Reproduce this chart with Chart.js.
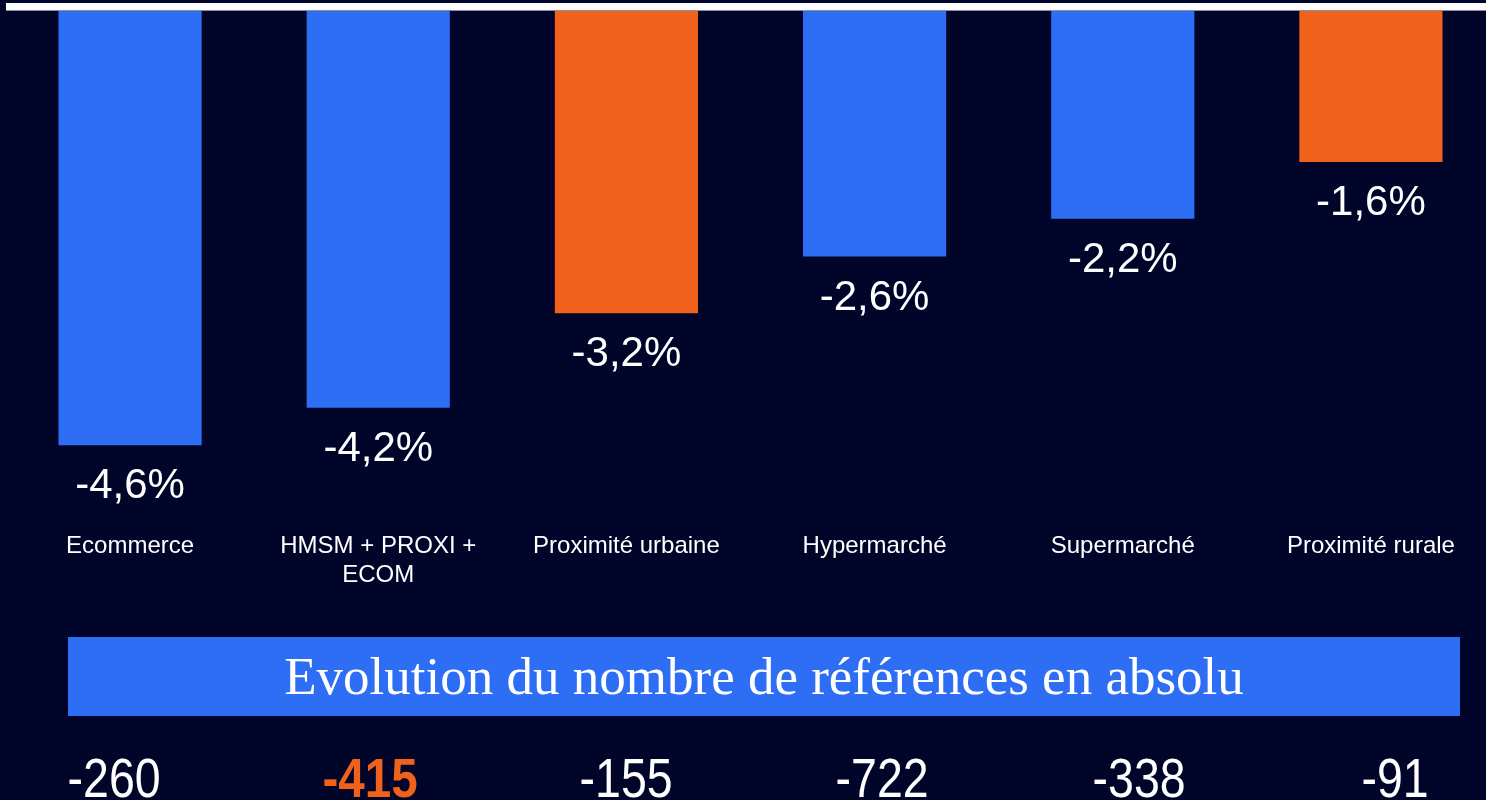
<!DOCTYPE html>
<html>
<head>
    <title>Evolution du nombre de références</title>
    <script src="https://cdn.jsdelivr.net/npm/chart.js"></script>
    <style>
        body {
            background-color: #01052a;
            margin: 0;
            width: 1486px;
            height: 800px;
            overflow: hidden;
            position: relative;
            font-family: 'Liberation Sans', Arial, sans-serif;
        }

        /* white rule across the top */
        .top-rule {
            position: absolute;
            left: 6px;
            top: 3px;
            width: 1486px;
            height: 8px;
            background: #ffffff;
            border-bottom: 1px solid #8a8fa8;
            box-sizing: border-box;
        }

        .chart-wrapper {
            position: absolute;
            left: 6px;
            top: 0;
        }

        .banner {
            position: absolute;
            left: 68px;
            top: 637px;
            width: 1392px;
            height: 79px;
            background: #2d6ef5;
            color: #ffffff;
            text-align: center;
            font-family: 'Liberation Serif', 'DejaVu Serif', serif;
            font-size: 53px;
            line-height: 79px;
        }

        .abs-row {
            position: absolute;
            left: -14px;
            top: 750px;
            width: 1537px;
            display: grid;
            grid-template-columns: repeat(6, 1fr);
        }

        .abs-row div {
            text-align: center;
            color: #ffffff;
            font-size: 56px;
            line-height: 56px;
            transform: scaleX(0.83);
        }

        .abs-row div.highlight {
            color: #f0611c;
            font-weight: bold;
            transform: scaleX(0.85);
        }
    </style>
</head>
<body>
<div class="top-rule"></div>

<div class="chart-wrapper">
    <canvas id="refChart" width="1489" height="600"></canvas>
</div>

<div class="banner">Evolution du nombre de références en absolu</div>
<div class="abs-row" id="absRow"></div>

<script>
    // Data
    const categories = ['Ecommerce', ['HMSM + PROXI +', 'ECOM'], 'Proximité urbaine', 'Hypermarché', 'Supermarché', 'Proximité rurale'];
    const pctChange = [-4.6, -4.2, -3.2, -2.6, -2.2, -1.6];
    const absChange = [-260, -415, -155, -722, -338, -91];
    const highlightedAbs = [false, true, false, false, false, false];
    const orangeBars = [false, false, true, false, false, true];

    const BLUE = '#2d6ef5';
    const ORANGE = '#f0611c';

    // Percent labels under the end of each bar
    const valueLabels = {
        id: 'valueLabels',
        afterDatasetsDraw(chart) {
            const ctx = chart.ctx;
            const meta = chart.getDatasetMeta(0);
            ctx.save();
            ctx.font = '42px "Liberation Sans", Arial, sans-serif';
            ctx.fillStyle = '#ffffff';
            ctx.textAlign = 'center';
            ctx.textBaseline = 'alphabetic';
            meta.data.forEach((bar, i) => {
                const txt = pctChange[i].toFixed(1).replace('.', ',') + '%';
                ctx.fillText(txt, bar.x, bar.y + 53);
            });
            ctx.restore();
        }
    };

    const ctx = document.getElementById('refChart').getContext('2d');
    const chart = new Chart(ctx, {
        type: 'bar',
        data: {
            labels: categories,
            datasets: [{
                data: pctChange,
                backgroundColor: orangeBars.map(o => o ? ORANGE : BLUE),
                borderWidth: 0,
                barPercentage: 0.577,
                categoryPercentage: 1
            }]
        },
        options: {
            responsive: false,
            animation: false,
            layout: { padding: { top: 11, bottom: 10, left: 0, right: 0 } },
            plugins: {
                legend: { display: false },
                tooltip: { enabled: false }
            },
            scales: {
                x: {
                    // tick marks hidden, tickLength only used to push labels down
                    grid: { display: false, drawTicks: true, tickLength: 87 },
                    border: { display: false },
                    ticks: {
                        color: '#ffffff',
                        padding: 0,
                        maxRotation: 0,
                        autoSkip: false,
                        font: { family: '"Liberation Sans", Arial, sans-serif', size: 24 }
                    }
                },
                y: {
                    display: false,
                    min: -4.6,
                    max: 0
                }
            }
        },
        plugins: [valueLabels]
    });

    // Absolute change row
    const row = document.getElementById('absRow');
    absChange.forEach((v, i) => {
        const cell = document.createElement('div');
        cell.textContent = String(v);
        if (highlightedAbs[i]) cell.className = 'highlight';
        row.appendChild(cell);
    });
</script>
</body>
</html>
